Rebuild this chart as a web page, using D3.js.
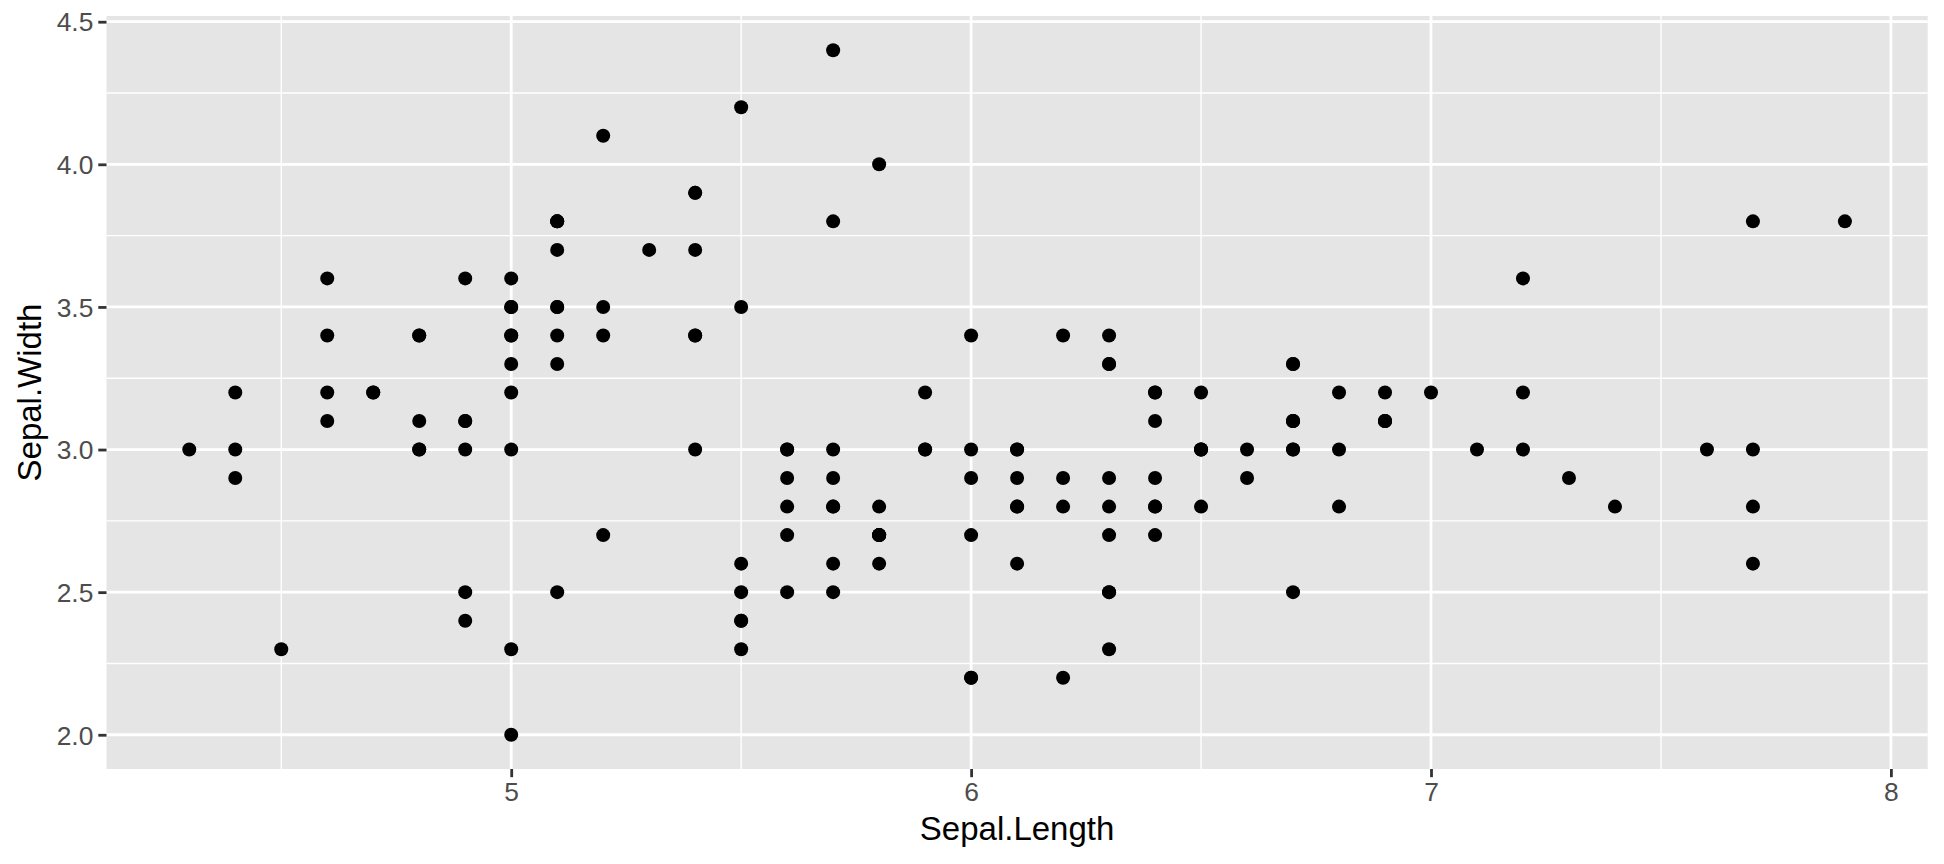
<!DOCTYPE html>
<html><head><meta charset="utf-8">
<script src="https://cdn.jsdelivr.net/npm/d3@7"></script>
<style>body{margin:0;background:#fff}svg{display:block}text{font-family:"Liberation Sans",Arial,Helvetica,sans-serif}</style>
</head><body><svg id="c" width="1944" height="864"></svg>
<script>
const sepalLength = [5.1,4.9,4.7,4.6,5.0,5.4,4.6,5.0,4.4,4.9,5.4,4.8,4.8,4.3,5.8,5.7,5.4,5.1,5.7,5.1,5.4,5.1,4.6,5.1,4.8,5.0,5.0,5.2,5.2,4.7,4.8,5.4,5.2,5.5,4.9,5.0,5.5,4.9,4.4,5.1,5.0,4.5,4.4,5.0,5.1,4.8,5.1,4.6,5.3,5.0,
7.0,6.4,6.9,5.5,6.5,5.7,6.3,4.9,6.6,5.2,5.0,5.9,6.0,6.1,5.6,6.7,5.6,5.8,6.2,5.6,5.9,6.1,6.3,6.1,6.4,6.6,6.8,6.7,6.0,5.7,5.5,5.5,5.8,6.0,5.4,6.0,6.7,6.3,5.6,5.5,5.5,6.1,5.8,5.0,5.6,5.7,5.7,6.2,5.1,5.7,
6.3,5.8,7.1,6.3,6.5,7.6,4.9,7.3,6.7,7.2,6.5,6.4,6.8,5.7,5.8,6.4,6.5,7.7,7.7,6.0,6.9,5.6,7.7,6.3,6.7,7.2,6.2,6.1,6.4,7.2,7.4,7.9,6.4,6.3,6.1,7.7,6.3,6.4,6.0,6.9,6.7,6.9,5.8,6.8,6.7,6.7,6.3,6.5,6.2,5.9];
const sepalWidth = [3.5,3.0,3.2,3.1,3.6,3.9,3.4,3.4,2.9,3.1,3.7,3.4,3.0,3.0,4.0,4.4,3.9,3.5,3.8,3.8,3.4,3.7,3.6,3.3,3.4,3.0,3.4,3.5,3.4,3.2,3.1,3.4,4.1,4.2,3.1,3.2,3.5,3.6,3.0,3.4,3.5,2.3,3.2,3.5,3.8,3.0,3.8,3.2,3.7,3.3,
3.2,3.2,3.1,2.3,2.8,2.8,3.3,2.4,2.9,2.7,2.0,3.0,2.2,2.9,2.9,3.1,3.0,2.7,2.2,2.5,3.2,2.8,2.5,2.8,2.9,3.0,2.8,3.0,2.9,2.6,2.4,2.4,2.7,2.7,3.0,3.4,3.1,2.3,3.0,2.5,2.6,3.0,2.6,2.3,2.7,3.0,2.9,2.9,2.5,2.8,
3.3,2.7,3.0,2.9,3.0,3.0,2.5,2.9,2.5,3.6,3.2,2.7,3.0,2.5,2.8,3.2,3.0,3.8,2.6,2.2,3.2,2.8,2.8,2.7,3.3,3.2,2.8,3.0,2.8,3.0,2.8,3.8,2.8,2.8,2.6,3.0,3.4,3.1,3.0,3.1,3.1,3.1,2.7,3.2,3.3,3.0,2.5,3.0,3.4,3.0];
const xTicks = [5, 6, 7, 8];
const xMinor = [4.5, 5.5, 6.5, 7.5];
const yTicks = [2.0, 2.5, 3.0, 3.5, 4.0, 4.5];
const yMinor = [2.25, 2.75, 3.25, 3.75, 4.25];
const xTitle = "Sepal.Length", yTitle = "Sepal.Width";

const svg = d3.select("#c");
const L = 106.5, R = 1927.7, T = 16, B = 769;
const x = d3.scaleLinear().domain([4.12, 8.08]).range([L, R]);
const y = d3.scaleLinear().domain([1.88, 4.52]).range([B, T]);

svg.append("rect").attr("x", L).attr("y", T).attr("width", R - L).attr("height", B - T).attr("fill", "#E5E5E5");
const g = svg.append("g");
g.selectAll(".vmin").data(xMinor).join("line").attr("x1", d => x(d)).attr("x2", d => x(d)).attr("y1", T).attr("y2", B).attr("stroke", "#fff").attr("stroke-width", 1.4);
g.selectAll(".hmin").data(yMinor).join("line").attr("y1", d => y(d)).attr("y2", d => y(d)).attr("x1", L).attr("x2", R).attr("stroke", "#fff").attr("stroke-width", 1.4);
g.selectAll(".vmaj").data(xTicks).join("line").attr("x1", d => x(d)).attr("x2", d => x(d)).attr("y1", T).attr("y2", B).attr("stroke", "#fff").attr("stroke-width", 2.8);
g.selectAll(".hmaj").data(yTicks).join("line").attr("y1", d => y(d)).attr("y2", d => y(d)).attr("x1", L).attr("x2", R).attr("stroke", "#fff").attr("stroke-width", 2.8);

const pts = sepalLength.map((v, i) => [v, sepalWidth[i]]);
svg.append("g").selectAll("circle").data(pts).join("circle")
  .attr("cx", d => x(d[0])).attr("cy", d => y(d[1])).attr("r", 7).attr("fill", "#000");

const xAxis = svg.append("g").attr("transform", `translate(0,${B})`)
  .call(d3.axisBottom(x).tickValues(xTicks).tickFormat(d3.format("d")).tickSize(8.2).tickPadding(5));
const yAxis = svg.append("g").attr("transform", `translate(${L},0)`)
  .call(d3.axisLeft(y).tickValues(yTicks).tickFormat(d3.format(".1f")).tickSize(8.2).tickPadding(5));
[xAxis, yAxis].forEach(a => {
  a.select(".domain").remove();
  a.selectAll(".tick line").attr("stroke", "#333333").attr("stroke-width", 2.8);
  a.selectAll(".tick text").attr("fill", "#4D4D4D").style("font-size", "26.4px").style("font-family", '"Liberation Sans",Arial,sans-serif');
});
xAxis.selectAll(".tick text").attr("dy", "0.71em");
yAxis.selectAll(".tick text").attr("dy", "0.35em");

svg.append("text").attr("x", (L + R) / 2).attr("y", 840).attr("text-anchor", "middle")
  .attr("fill", "#000").style("font-size", "33px").text(xTitle);
svg.append("text").attr("transform", `translate(41,${(T + B) / 2}) rotate(-90)`).attr("text-anchor", "middle")
  .attr("fill", "#000").style("font-size", "33px").text(yTitle);
</script></body></html>
